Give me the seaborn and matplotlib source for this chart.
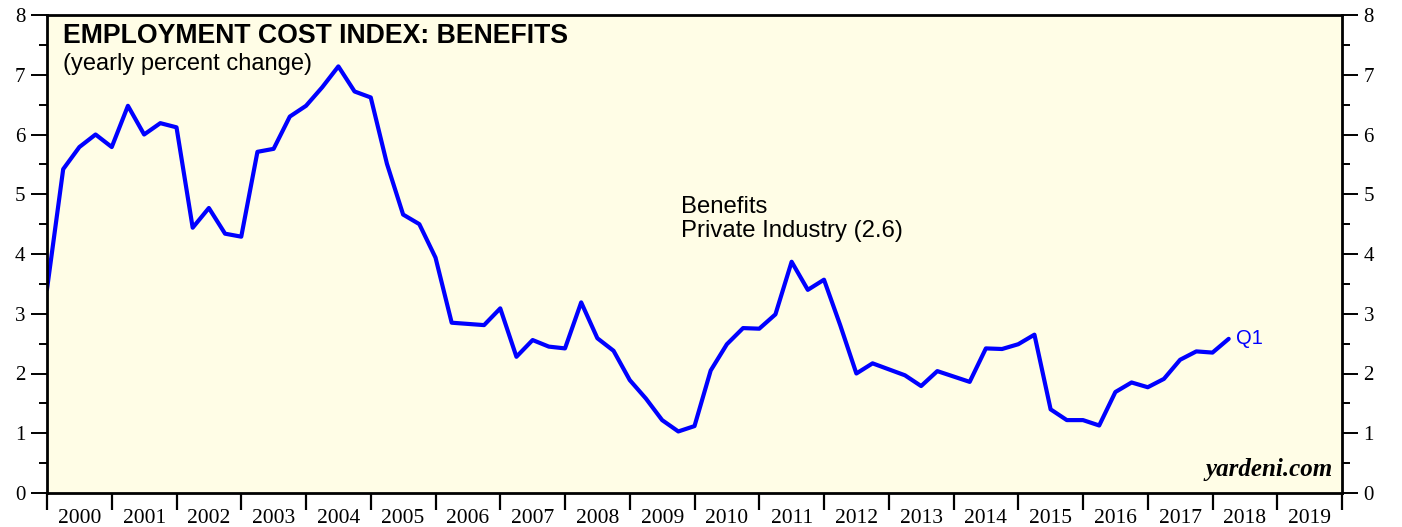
import numpy as np
import pandas as pd
import matplotlib
matplotlib.use("Agg")
import matplotlib.pyplot as plt
import seaborn as sns

# ---------- Data (quarterly) ----------

START_YEAR = 2000.0
benefits_yoy = [
    3.41, 5.42, 5.79, 6.00, 5.79, 6.48, 6.00, 6.19, 6.12, 4.44,
    4.77, 4.34, 4.29, 5.71, 5.76, 6.30, 6.48, 6.79, 7.14, 6.72,
    6.62, 5.51, 4.66, 4.50, 3.94, 2.85, 2.83, 2.81, 3.09, 2.28,
    2.56, 2.45, 2.42, 3.19, 2.59, 2.38, 1.89, 1.58, 1.22, 1.03,
    1.12, 2.05, 2.49, 2.76, 2.75, 2.99, 3.87, 3.40, 3.57, 2.81,
    2.00, 2.17, 2.07, 1.97, 1.79, 2.04, 1.95, 1.86, 2.42, 2.41,
    2.49, 2.65, 1.40, 1.22, 1.22, 1.13, 1.69, 1.85, 1.77, 1.91,
    2.23, 2.37, 2.35, 2.58,
]
years = list(range(2000, 2020))
y_ticks = list(range(0, 9))

df = pd.DataFrame({
    "date": START_YEAR + 0.25 * np.arange(len(benefits_yoy)),
    "value": benefits_yoy,
})

# ---------- Style ----------

sns.set_style("ticks")
plt.rcParams["font.family"] = ["Liberation Sans", "DejaVu Sans"]
plt.rcParams.update({"text.color": "black", "xtick.color": "black",
                     "ytick.color": "black", "axes.labelcolor": "black"})

BLUE = "#0000ff"
SERIF = ["Liberation Serif", "DejaVu Serif"]

fig = plt.figure(figsize=(14.02, 5.27), dpi=100)
ax = fig.add_axes([47 / 1402, 1 - 493 / 527, (1342 - 47) / 1402, (493 - 15) / 527])
ax.set_facecolor("#fffde6")

sns.lineplot(data=df, x="date", y="value", ax=ax, color=BLUE, linewidth=3.0)

ax.set_xlim(2000, 2020)
ax.set_ylim(0, 8)
ax.set_xlabel("")
ax.set_ylabel("")

for side in ax.spines.values():
    side.set_linewidth(2.0)
    side.set_color("black")

# y axis: ticks on both sides
ax.set_yticks(y_ticks)
ax.set_yticks(np.arange(0.5, 8, 1.0), minor=True)
ax.tick_params(axis="y", which="major", left=True, right=True,
               labelleft=True, labelright=True,
               length=11.5, width=1.4, pad=4, labelsize=15,
               color="black", labelcolor="black")
ax.tick_params(axis="y", which="minor", left=True, right=True,
               length=5.8, width=1.4, color="black")
for lbl in ax.get_yticklabels():
    lbl.set_fontfamily(SERIF)

# x axis: year boundaries as ticks, labels centred in each year
ax.set_xticks(list(range(2000, 2021)))
ax.set_xticklabels([])
ax.set_xticks([y + 0.5 for y in years], minor=True)
ax.set_xticklabels([str(y) for y in years], minor=True, fontfamily=SERIF)
ax.tick_params(axis="x", which="major", length=12, width=1.6, color="black")
ax.tick_params(axis="x", which="minor", length=0, pad=11.5, labelsize=15.5,
               labelcolor="black")

# ---------- Text ----------

ax.text(0.0124, 0.957, "EMPLOYMENT COST INDEX: BENEFITS", transform=ax.transAxes,
        fontsize=19.2, fontweight="bold", va="center", ha="left", color="black")
ax.text(0.0124, 0.898, "(yearly percent change)", transform=ax.transAxes,
        fontsize=17, va="center", ha="left", color="black")

ax.text(2009.79, 4.79, "Benefits", fontsize=17.2, va="center", ha="left", color="black")
ax.text(2009.79, 4.38, "Private Industry (2.6)", fontsize=17.2, va="center",
        ha="left", color="black")

ax.text(df["date"].iloc[-1] + 0.12, df["value"].iloc[-1], "Q1", color=BLUE,
        fontsize=14.5, va="center", ha="left")

ax.text(0.993, 0.025, "yardeni.com", transform=ax.transAxes, fontsize=18,
        fontstyle="italic", fontweight="bold", fontfamily=SERIF,
        va="bottom", ha="right", color="black")

fig.savefig("out.png", dpi=100)
plt.close(fig)
